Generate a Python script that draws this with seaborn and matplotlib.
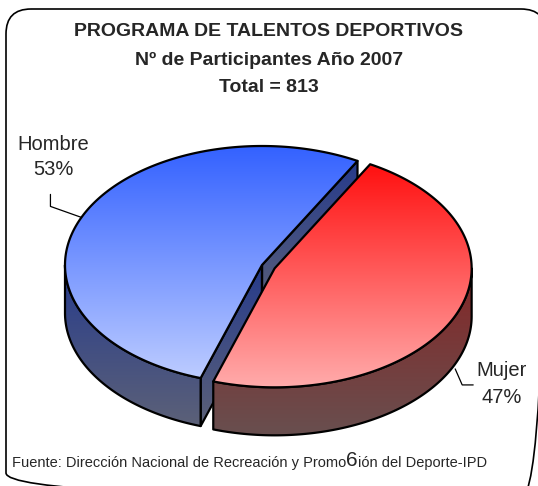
import numpy as np
import matplotlib
matplotlib.use('Agg')
import matplotlib.pyplot as plt
import seaborn as sns
from matplotlib.patches import Polygon, FancyBboxPatch

sns.set_style('white')
plt.rcParams['font.family'] = ['Liberation Sans', 'DejaVu Sans']

# data
labels = ['Hombre', 'Mujer']
counts = [431, 382]
explode = [0.0, 0.07]
start_angle = 61
title_lines = ['PROGRAMA DE TALENTOS DEPORTIVOS',
               'Nº de Participantes Año 2007',
               'Total = 813']
source_parts = ['Fuente: Dirección Nacional de Recreación y Promo', '6', 'ión del Deporte-IPD']

# colours (top of gradient, bottom of gradient)
top_cols = [((0.20, 0.38, 1.0), (0.74, 0.80, 1.0)),
            ((1.0, 0.06, 0.06), (1.0, 0.67, 0.67))]
side_cols = [((0.15, 0.23, 0.55), (0.36, 0.38, 0.47)),
             ((0.52, 0.15, 0.15), (0.41, 0.31, 0.31))]

# pie geometry, in pixels
CX, CY = 262, 265
RX, RY = 197, 119
DEPTH = 48

fig = plt.figure(figsize=(5.38, 4.86), dpi=100)
ax = fig.add_axes([0, 0, 1, 1])


def ell(cx, cy, t, dz=0):
    r = np.radians(t)
    return cx + RX * np.cos(r), cy - RY * np.sin(r) + dz


def grad_poly(verts, c0, c1, z):
    verts = np.asarray(verts)
    x0, x1 = verts[:, 0].min(), verts[:, 0].max()
    y0, y1 = verts[:, 1].min(), verts[:, 1].max()
    g = np.linspace(0, 1, 256)[:, None]
    img = (np.array(c0)[None, :] * (1 - g) + np.array(c1)[None, :] * g)[:, None, :]
    im = ax.imshow(img, extent=(x0, x1, y1, y0), origin='upper', aspect='auto',
                   interpolation='bilinear', zorder=z)
    clip = Polygon(verts, closed=True, transform=ax.transData, fc='none', ec='none')
    ax.add_patch(clip)
    im.set_clip_path(clip)
    ax.add_patch(Polygon(verts, closed=True, fill=False, ec='black', lw=1.6,
                         joinstyle='round', zorder=z + 0.5))


total = sum(counts)
a = start_angle
mids = []
centers = []
for i, c in enumerate(counts):
    a1, a2 = a, a + 360 * c / total
    a = a2
    mid = (a1 + a2) / 2
    mids.append(mid)
    cx = CX + explode[i] * RX * np.cos(np.radians(mid))
    cy = CY - explode[i] * RY * np.sin(np.radians(mid))
    centers.append((cx, cy))
    z = i * 10

    # radial faces
    for ang, normal in [(a1, a1 - 90), (a2, a2 + 90)]:
        if np.sin(np.radians(normal)) < 0:
            ex, ey = ell(cx, cy, ang)
            grad_poly([(cx, cy), (ex, ey), (ex, ey + DEPTH), (cx, cy + DEPTH)],
                      side_cols[i][0], side_cols[i][1], z)

    # outer side (front part only)
    for k in [-1, 0, 1]:
        s, e = max(a1, 180 + 360 * k), min(a2, 360 + 360 * k)
        if e > s:
            ts = np.linspace(s, e, 120)
            tx, ty = ell(cx, cy, ts)
            verts = list(zip(tx, ty)) + list(zip(tx[::-1], ty[::-1] + DEPTH))
            grad_poly(verts, side_cols[i][0], side_cols[i][1], z + 2)

    # top face
    ts = np.linspace(a1, a2, 240)
    tx, ty = ell(cx, cy, ts)
    grad_poly([(cx, cy)] + list(zip(tx, ty)), top_cols[i][0], top_cols[i][1], z + 4)

# labels with leader lines
pcts = [round(100 * c / total) for c in counts]
bx, by = ell(*centers[0], mids[0])
ax.plot([bx, bx - 31, bx - 31], [by, by - 11, by - 23], color='black', lw=0.9, zorder=30)
ax.text(53, 157, f'{labels[0]}\n{pcts[0]}%', ha='center', va='center',
        fontsize=14.5, linespacing=1.45, zorder=30)

rx_, ry_ = ell(*centers[1], mids[1], DEPTH + 5)
ax.plot([rx_, rx_ + 7, rx_ + 18], [ry_, ry_ + 16, ry_ + 16], color='black', lw=0.9, zorder=30)
ax.text(502, 384, f'{labels[1]}\n{pcts[1]}%', ha='center', va='center',
        fontsize=14.5, linespacing=1.5, zorder=30)

# titles
for yy, line in zip([32, 60, 88], title_lines):
    ax.text(269, yy, line, ha='center', va='center', fontsize=14,
            fontweight='bold', zorder=30)

# source note (with the oversized "6" as in the original)
prev = ax.text(12, 470, source_parts[0], ha='left', va='bottom', fontsize=10.5, zorder=30)
prev = ax.annotate(source_parts[1], xy=(1, 0), xycoords=prev, ha='left', va='bottom',
                   fontsize=15, zorder=30)
ax.annotate(source_parts[2], xy=(1, 0), xycoords=prev, ha='left', va='bottom',
            fontsize=10.5, zorder=30)

# rounded frame
frame = FancyBboxPatch((6, 9), 540, 489, boxstyle='round,pad=0,rounding_size=25',
                       fill=False, ec='black', lw=1.2, clip_on=False, zorder=40)
ax.add_patch(frame)

ax.set_xlim(0, 538)
ax.set_ylim(486, 0)
ax.axis('off')

fig.savefig('out.png', dpi=100)
